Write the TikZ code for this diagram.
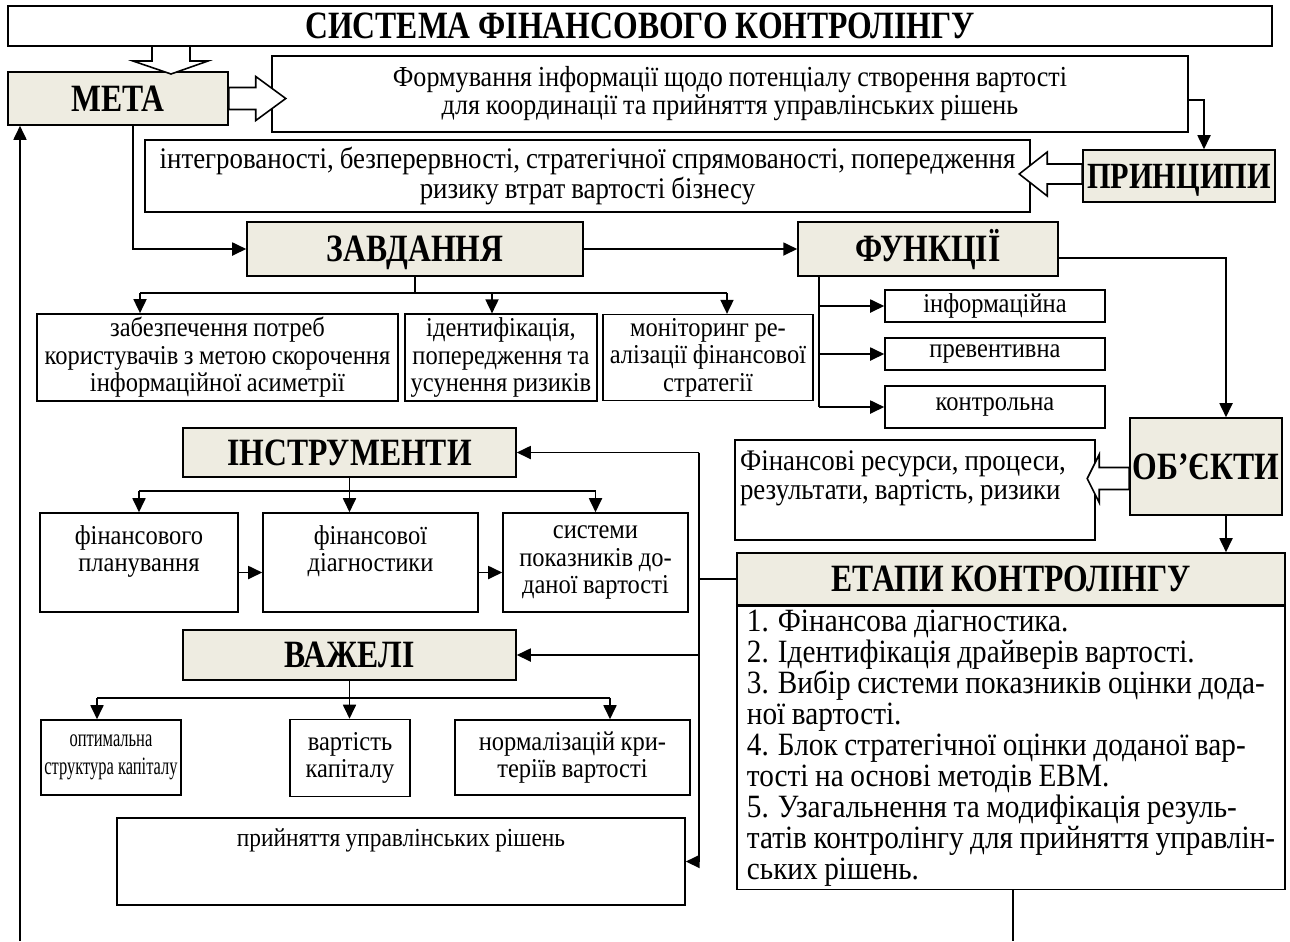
\documentclass[tikz,border=0pt]{standalone}
\usepackage{fontspec}
\setmainfont{Liberation Serif}[FakeStretch=0.9, WordSpace=0.9]
\newfontfamily\hdfamily{Liberation Serif}[FakeStretch=0.82]
\newfontfamily\narrowfont{Liberation Serif}[FakeStretch=0.66]
\usetikzlibrary{arrows.meta,calc,positioning}

\definecolor{beige}{RGB}{238,236,225}

\newcommand\hdfont{\hdfamily\fontsize{22}{24}\selectfont\bfseries}
\newcommand\txfont{\fontsize{15.5}{15.6}\selectfont\lineskiplimit=-50pt}
\newcommand\gofont{\fontsize{16.5}{16}\selectfont\lineskiplimit=-50pt}
\newcommand\prfont{\fontsize{17}{17}\selectfont\lineskiplimit=-50pt}
\newcommand\stfont{\fontsize{18.5}{17.6}\selectfont\lineskiplimit=-50pt}
\newcommand\dcfont{\fontsize{14.8}{18}\selectfont}
\newcommand\lvfont{\narrowfont\fontsize{14.2}{15.8}\selectfont\lineskiplimit=-50pt}

\tikzset{
  box/.style={draw, line width=0.9pt, fill=white, align=center, inner sep=2pt, font=\txfont},
  head/.style={box, fill=beige, inner sep=1pt, font=\hdfont, text height=14.5pt, text depth=0pt},
  conn/.style={line width=1pt},
  hollow/.style={draw, line width=0.9pt, fill=white},
}

\begin{document}
\begin{tikzpicture}[x=0.02cm, y=-0.02cm, >={Triangle[length=2.8mm,width=2.6mm]}]
  \useasboundingbox (0,0) rectangle (1290,941);

  % Top row
  \node[head, fill=white, minimum width=25.28cm, minimum height=0.8cm] (title) at (640,26) {СИСТЕМА ФІНАНСОВОГО КОНТРОЛІНГУ};
  \node[head, minimum width=4.4cm, minimum height=1.06cm] (meta) at (118,98.5) {МЕТА};
  \node[box, font=\gofont, minimum width=18.32cm, minimum height=1.52cm] (goal) at (730,94)
    {Формування інформації щодо потенціалу створення вартості\\для координації та прийняття управлінських рішень};
  \node[head, font=\hdfamily\fontsize{21}{24}\selectfont\bfseries, minimum width=3.84cm, minimum height=1.04cm] (princ) at (1179,176) {ПРИНЦИПИ};
  \node[box, font=\prfont, minimum width=17.7cm, minimum height=1.44cm] (prtext) at (587.5,176)
    {інтегрованості, безперервності, стратегічної спрямованості, попередження\\ризику втрат вартості бізнесу};

  % Tasks and functions
  \node[head, minimum width=6.72cm, minimum height=1.08cm] (tasks) at (415,249) {ЗАВДАННЯ};
  \node[head, minimum width=5.2cm, minimum height=1.08cm] (func) at (928,249) {ФУНКЦІЇ};
  \node[box, minimum width=7.22cm, minimum height=1.7cm] (t1) at (217.5,357.5)
    {забезпечення потреб\\користувачів з метою скорочення\\інформаційної асиметрії};
  \node[box, minimum width=3.84cm, minimum height=1.7cm] (t2) at (501,357.5)
    {ідентифікація,\\попередження та\\усунення ризиків};
  \node[box, minimum width=4.2cm, minimum height=1.7cm] (t3) at (708,357.5)
    {моніторинг ре-\\алізації фінансової\\стратегії};
  \node[box, minimum width=4.4cm, minimum height=0.64cm] (f1) at (995,306) {інформаційна};
  \node[box, minimum width=4.4cm, minimum height=0.64cm] (f2) at (995,354) {превентивна};
  \node[box, minimum width=4.4cm, minimum height=0.84cm] (f3) at (995,407) {контрольна};

  % Objects and stages
  \node[head, minimum width=3.04cm, minimum height=1.94cm] (objects) at (1206,466.5) {ОБ’ЄКТИ};
  \node[box, font=\prfont, align=flush left, text width=7.0cm, minimum width=7.2cm, minimum height=2.0cm] (objtext) at (915,490)
    {Фінансові ресурси, процеси,\\результати, вартість, ризики\\\mbox{}};
  \node[head, minimum width=10.96cm, minimum height=1.04cm] (stagehead) at (1011,579) {ЕТАПИ КОНТРОЛІНГУ};
  \node[box, font=\stfont, align=left, minimum width=10.96cm, minimum height=5.64cm, below=0pt of stagehead] (stagebody)
    {1. Фінансова діагностика.\\
     2. Ідентифікація драйверів вартості.\\
     3. Вибір системи показників оцінки дода-\\
     ної вартості.\\
     4. Блок стратегічної оцінки доданої вар-\\
     тості на основі методів EBM.\\
     5. Узагальнення та модифікація резуль-\\
     татів контролінгу для прийняття управлін-\\
     ських рішень.};

  % Instruments
  \node[head, minimum width=6.66cm, minimum height=0.98cm] (instr) at (349.5,452.5) {ІНСТРУМЕНТИ};
  \node[box, minimum width=3.96cm, minimum height=1.98cm] (i1) at (139,562.5) {фінансового\\планування\\\mbox{}};
  \node[box, minimum width=4.3cm, minimum height=1.98cm] (i2) at (370.5,562.5) {фінансової\\діагностики\\\mbox{}};
  \node[box, minimum width=3.7cm, minimum height=1.98cm] (i3) at (595.5,562.5) {системи\\показників до-\\даної вартості};

  % Levers
  \node[head, minimum width=6.66cm, minimum height=1.0cm] (lever) at (349.5,655) {ВАЖЕЛІ};
  \node[box, font=\lvfont, minimum width=2.76cm, minimum height=1.5cm] (l1) at (111,757.5) {оптимальна\\структура капіталу};
  \node[box, minimum width=2.4cm, minimum height=1.54cm] (l2) at (350,758) {вартість\\капіталу};
  \node[box, minimum width=4.7cm, minimum height=1.5cm] (l3) at (572.5,757.5) {нормалізацій кри-\\теріїв вартості};
  \node[box, font=\dcfont, minimum width=11.36cm, minimum height=1.74cm, text height=0.3cm, text depth=0.9cm] (decision) at (401,861.5)
    {прийняття управлінських рішень};

  % Hollow arrows
  \draw[hollow] (152,46) -- (190,46) -- (190,61) -- (208,61) -- (171,74) -- (133,61) -- (152,61) -- cycle;
  \draw[hollow] (meta.east) ++(0,-11) -- ++(27,0) -- ++(0,-11) -- ++(30,22) -- ++(-30,22) -- ++(0,-11) -- ++(-27,0) -- cycle;
  \draw[hollow] (princ.west) ++(0,-12) -- ++(-35,0) -- ++(0,-12) -- ++(-28,22) -- ++(28,22) -- ++(0,-12) -- ++(35,0) -- cycle;
  \draw[hollow] ([yshift=-0.24cm]objects.west) ++(0,-11) -- ++(-30,0) -- ++(0,-13) -- ++(-12,24) -- ++(12,24) -- ++(0,-13) -- ++(30,0) -- cycle;

  % Connectors
  \draw[conn, ->] ([yshift=-0.12cm]goal.east) -| ([xshift=0.5cm]princ.north);
  \draw[conn, ->] ([xshift=0.3cm]meta.south) |- (tasks.west);
  \draw[conn, ->] (tasks.east) -- (func.west);
  \coordinate (ox) at ([xshift=0.4cm]objects.north);
  \draw[conn, ->] ([yshift=-0.18cm]func.east) -| (ox);
  \draw[conn, ->] (ox |- objects.south) -- (ox |- stagehead.north);

  % tasks branches
  \coordinate (t1in) at ([xshift=-1.55cm]t1.north);
  \coordinate (t2in) at ([xshift=-0.18cm]t2.north);
  \coordinate (t3in) at ([xshift=0.38cm]t3.north);
  \draw[conn] (tasks.south) -- ++(0,16) coordinate (tk);
  \draw[conn] (tk -| t1in) -- (tk -| t3in);
  \foreach \n in {t1in,t2in,t3in}
    \draw[conn, ->] (tk -| \n) -- (\n);

  % functions branches
  \coordinate (fs) at ([xshift=0.44cm]func.south west);
  \draw[conn] (fs) -- (fs |- f3.west);
  \foreach \n in {f1,f2,f3}
    \draw[conn, ->] (fs |- \n.west) -- (\n.west);

  % instruments branches
  \draw[conn, ->] (instr.south) -- (instr.south |- i2.north);
  \draw[conn] ([yshift=-0.26cm]instr.south) coordinate (ik) -- (ik -| i1.north);
  \draw[conn] (ik) -- (ik -| i3.north);
  \draw[conn, ->] (ik -| i1.north) -- (i1.north);
  \draw[conn, ->] (ik -| i3.north) -- (i3.north);
  \draw[conn, ->] ([yshift=-0.2cm]i1.east) -- ([yshift=-0.2cm]i2.west);
  \draw[conn, ->] ([yshift=-0.2cm]i2.east) -- ([yshift=-0.2cm]i3.west);

  % levers branches
  \coordinate (l1in) at ([xshift=-0.28cm]l1.north);
  \coordinate (l3in) at ([xshift=0.75cm]l3.north);
  \draw[conn, ->] (lever.south) -- (lever.south |- l2.north);
  \draw[conn] ([yshift=-0.34cm]lever.south) coordinate (lk) -- (lk -| l1in);
  \draw[conn] (lk) -- (lk -| l3in);
  \draw[conn, ->] (lk -| l1in) -- (l1in);
  \draw[conn, ->] (lk -| l3in) -- (l3in);

  % stages back to instruments, levers, decisions
  \coordinate (rs) at ([xshift=-0.74cm]stagehead.west);
  \draw[conn] (stagehead.west) -- (rs);
  \draw[conn] (rs |- instr.east) -- (rs |- decision.east);
  \foreach \n in {instr,lever,decision}
    \draw[conn, ->] (rs |- \n.east) -- (\n.east);

  % feedback lines
  \coordinate (fbl) at (20,941);
  \coordinate (fbr) at (1013,941);
  \draw[conn, ->] (fbl) -- (fbl |- meta.south);
  \draw[conn] (fbr |- stagebody.south) -- (fbr);
\end{tikzpicture}
\end{document}
